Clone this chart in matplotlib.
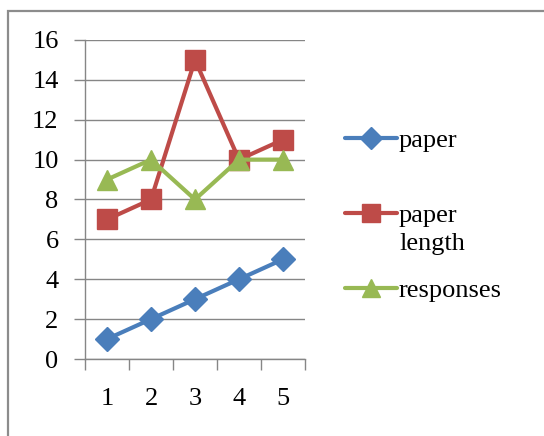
import matplotlib
matplotlib.use("Agg")
import matplotlib.pyplot as plt
from matplotlib.lines import Line2D
from matplotlib.patches import Rectangle

categories = [1, 2, 3, 4, 5]
paper = [1, 2, 3, 4, 5]
paper_length = [7, 8, 15, 10, 11]
responses = [9, 10, 8, 10, 10]
series_names = ["paper", "paper\nlength", "responses"]
y_ticks = [0, 2, 4, 6, 8, 10, 12, 14, 16]

colors = ["#4A7EBB", "#BE4B48", "#98B954"]
markers = ["D", "s", "^"]
msizes = [12, 14, 14]
grid_color = "#868686"
font = "Liberation Serif"
fs = 19

W, H = 544, 436
fig = plt.figure(figsize=(W / 100, H / 100), dpi=100)
fig.patch.set_facecolor("white")

# chart-area frame
fig.add_artist(Rectangle((8 / W, -0.1), 1.2, (H - 11) / H + 0.1,
                         transform=fig.transFigure, fill=False,
                         edgecolor="#8c8c8c", linewidth=1.6))

ax = fig.add_axes([85 / W, 1 - 359 / H, 220 / W, 319 / H])
ax.set_xlim(0.5, 5.5)
ax.set_ylim(0, 16)

for vals, c, m, ms in zip([paper, paper_length, responses], colors, markers, msizes):
    ax.plot(categories, vals, color=c, linewidth=3, marker=m, markersize=ms,
            markeredgecolor=c, markerfacecolor=c, solid_capstyle="round",
            clip_on=False, zorder=3)

for s in ["top", "right"]:
    ax.spines[s].set_visible(False)
for s in ["left", "bottom"]:
    ax.spines[s].set_color(grid_color)
    ax.spines[s].set_linewidth(1)

ax.set_yticks(y_ticks)
ax.set_yticklabels([str(v) for v in y_ticks], fontfamily=font, fontsize=fs)
ax.yaxis.grid(True, color=grid_color, linewidth=1)
ax.set_axisbelow(True)
ax.tick_params(axis="y", length=8, width=1, color=grid_color, pad=11)

ax.set_xticks([c - 0.5 for c in categories] + [categories[-1] + 0.5])
ax.set_xticklabels([])
ax.set_xticks(categories, minor=True)
ax.set_xticklabels([str(c) for c in categories], minor=True,
                   fontfamily=font, fontsize=fs)
ax.tick_params(axis="x", which="major", length=8, width=1, color=grid_color)
ax.tick_params(axis="x", which="minor", length=0, pad=21)

# legend
leg_y = [138, 213, 288]
for name, c, m, ms, y in zip(series_names, colors, markers, msizes, leg_y):
    yf = 1 - y / H
    fig.add_artist(Line2D([345 / W, 397 / W], [yf, yf], transform=fig.transFigure,
                          color=c, linewidth=3, solid_capstyle="round"))
    fig.add_artist(Line2D([371 / W], [yf], transform=fig.transFigure,
                          marker=m, markersize=ms - 1, color=c, linestyle="none"))
    fig.text(399 / W, yf + 8 / H, name, fontfamily=font, fontsize=fs,
             va="top", ha="left", linespacing=1.35)

fig.savefig("out.png", dpi=100, facecolor="white")
